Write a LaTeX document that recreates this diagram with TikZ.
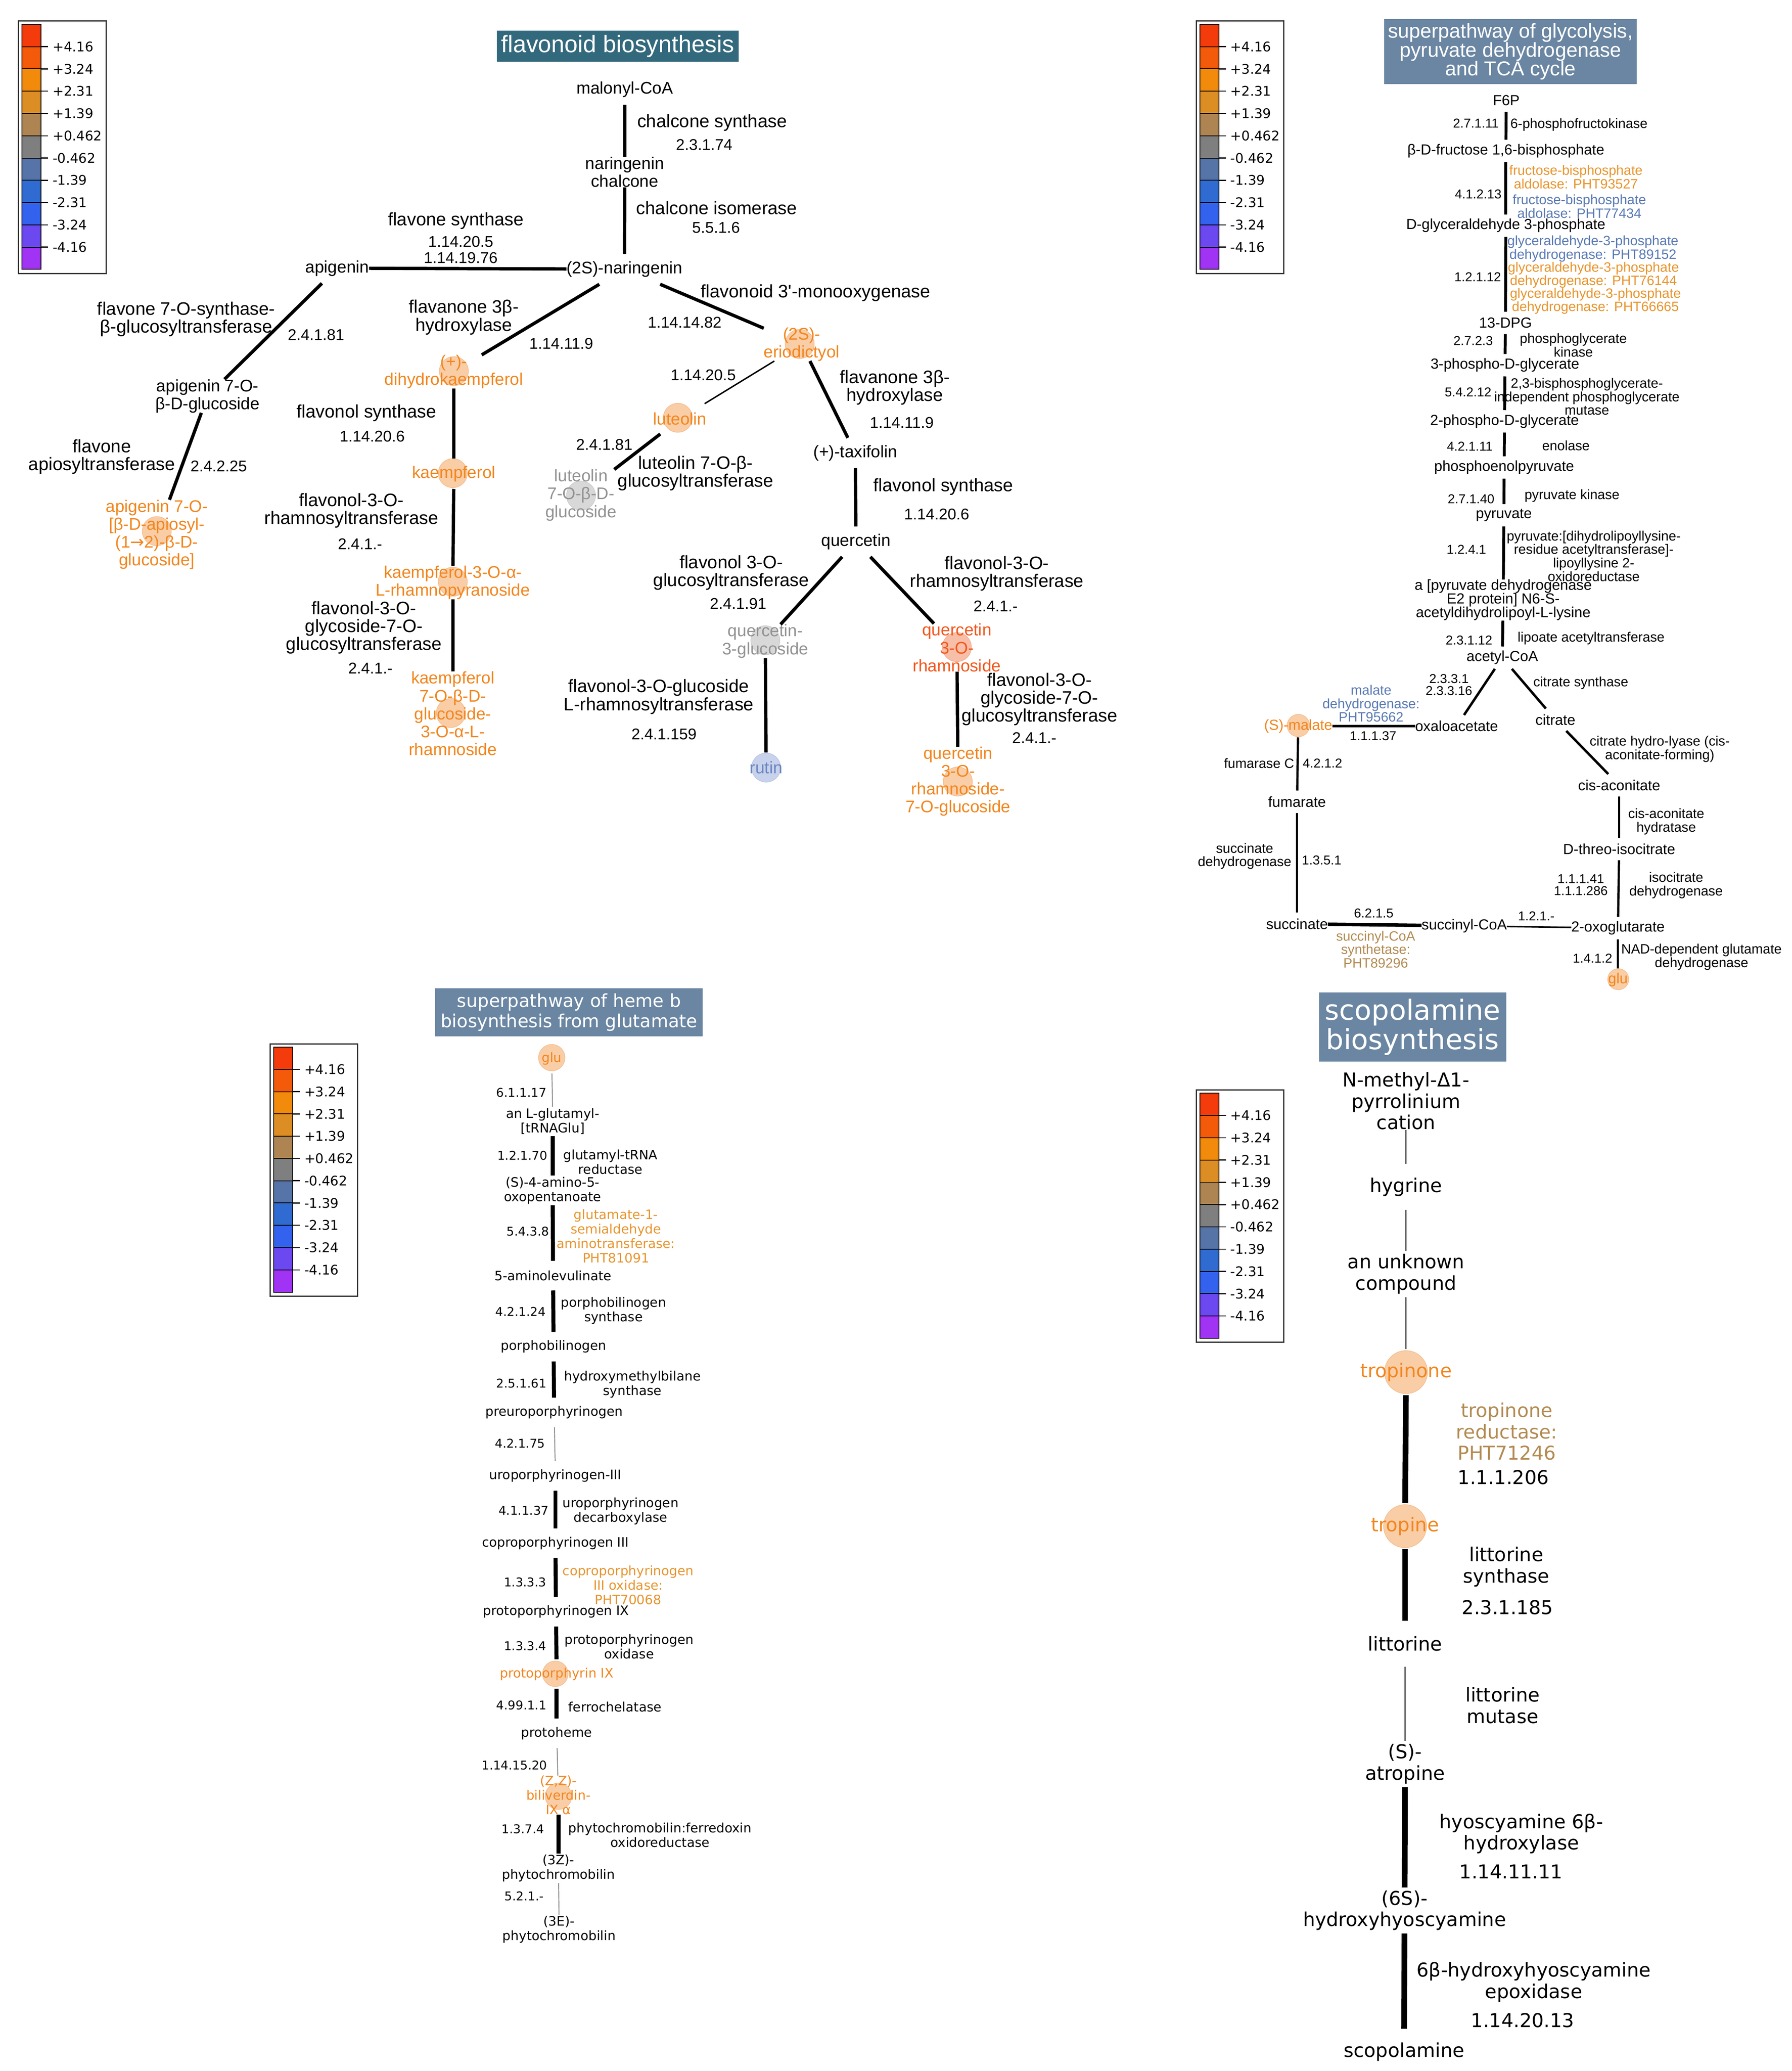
\documentclass[tikz,border=0pt]{standalone}
\usepackage{fontspec}
\setmainfont{Liberation Sans}
\newfontfamily\dvs{DejaVu Sans}
\definecolor{orT}{HTML}{F2861E}
\definecolor{orC}{HTML}{F9CDA6}
\definecolor{orCd}{HTML}{F6BE90}
\definecolor{grT}{HTML}{929292}
\definecolor{grC}{HTML}{D8D8D8}
\definecolor{grCd}{HTML}{CCCCCC}
\definecolor{ruT}{HTML}{6A86C0}
\definecolor{ruC}{HTML}{C8D2EC}
\definecolor{ruCd}{HTML}{B8C5E5}
\definecolor{rdT}{HTML}{F2561C}
\definecolor{rdC}{HTML}{F7BEA8}
\definecolor{rdCd}{HTML}{F4AC92}
\definecolor{enzO}{HTML}{E8952E}
\definecolor{enzB}{HTML}{5A7AB4}
\definecolor{enzT}{HTML}{B38B52}
\definecolor{titleA}{HTML}{33697D}
\definecolor{titleB}{HTML}{6A86A2}
\definecolor{lg1}{HTML}{F33B0B}
\definecolor{lg2}{HTML}{F35A0A}
\definecolor{lg3}{HTML}{F28A0C}
\definecolor{lg4}{HTML}{DC8E24}
\definecolor{lg5}{HTML}{AE8552}
\definecolor{lg6}{HTML}{7F7F7F}
\definecolor{lg7}{HTML}{5674A8}
\definecolor{lg8}{HTML}{2F6BD0}
\definecolor{lg9}{HTML}{3262EE}
\definecolor{lg10}{HTML}{6B48EF}
\definecolor{lg11}{HTML}{A033F4}
\newcommand\myarrow{{\dvs →}}
\tikzset{
  every node/.style={inner sep=0pt,outer sep=0pt},
  fc/.style={font=\fontsize{41}{43.5}\selectfont,align=center,minimum height=73.8pt},
  fe/.style={font=\fontsize{44}{43.5}\selectfont,align=center},
  fn/.style={font=\fontsize{38}{39.5}\selectfont,align=center},
  gc/.style={font=\fontsize{35.6}{33.4}\selectfont,align=center,minimum height=54.5pt},
  ge/.style={font=\fontsize{33}{33}\selectfont,align=center},
  gn/.style={font=\fontsize{31.4}{29.5}\selectfont,align=center},
  hc/.style={font=\dvs\fontsize{31.5}{35.3}\selectfont,align=center},
  hcomp/.style={hc,minimum height=72pt},
  hn/.style={font=\dvs\fontsize{29.5}{35}\selectfont,align=center},
  sc/.style={font=\dvs\fontsize{46.5}{52}\selectfont,align=center},
  scomp/.style={sc,minimum height=112.3pt},
  legtext/.style={font=\dvs\fontsize{32.4}{36}\selectfont},
  ttl/.style={text=white,align=center},
  ocirc/.style={circle,fill=orC,draw=orCd,line width=1.5pt,minimum size=#1},
  gcirc/.style={circle,fill=grC,draw=grCd,line width=1.5pt,minimum size=#1},
  bcirc/.style={circle,fill=ruC,draw=ruCd,line width=1.5pt,minimum size=#1},
  rcirc/.style={circle,fill=rdC,draw=rdCd,line width=1.5pt,minimum size=#1},
  fth/.style={line width=8pt},
  ftn/.style={line width=3.5pt},
  gth/.style={line width=7pt},
  hth/.style={line width=9.8pt},
  htn/.style={line width=2.2pt,draw=black!45},
  sth/.style={line width=14pt},
  stn/.style={line width=2.8pt,draw=black!70},
  legendpic/.pic={
    \foreach \col [count=\i from 0] in {lg1,lg2,lg3,lg4,lg5,lg6,lg7,lg8,lg9,lg10,lg11}
      \filldraw[fill=\col,draw=black,line width=2pt] (2.8,2.5+16.9*\i) rectangle (17.1,19.4+16.9*\i);
    \foreach \lab [count=\i] in {+4.16,+3.24,+2.31,+1.39,+0.462,-0.462,-1.39,-2.31,-3.24,-4.16} {
      \draw[line width=2.5pt] (17.1,2.5+16.9*\i) -- (22.6,2.5+16.9*\i);
      \node[legtext,anchor=west] (-l\i) at (26,2.5+16.9*\i) {\lab};
    }
    \draw[line width=3pt,draw=black!80] (0,0) rectangle (66.5,191.5);
  }
}
\begin{document}
\begin{tikzpicture}[x=3.208pt,y=-3.208pt]
\fill[white] (0,0) rectangle (1360,1571.4);
\useasboundingbox (0,0) rectangle (1360,1571.4);

% ---------- legends ----------
\pic (L1) at (14,16) {legendpic};
\pic (L2) at (908,16) {legendpic};
\pic (L3) at (205,792) {legendpic};
\pic (L4) at (908,827) {legendpic};

% ================= FLAVONOID =================
\node[ttl,fill=titleA,minimum width=588.7pt,minimum height=76pt,font=\fontsize{58}{60}\selectfont] (tflav) at (468.8,35) {flavonoid biosynthesis};

% circles
\node[ocirc=70.6pt] (c-apig7a) at (119,403) {};
\node[ocirc=70.6pt] (c-dhk) at (344.5,281.6) {};
\node[ocirc=70.6pt] (c-kaem) at (343.7,359) {};
\node[ocirc=70.6pt] (c-k3r) at (343.7,441.4) {};
\node[ocirc=70.6pt] (c-k7g) at (342.2,541) {};
\node[ocirc=70.6pt] (c-erio) at (607,261) {};
\node[ocirc=70.6pt] (c-lut) at (514.5,317) {};
\node[gcirc=70.6pt] (c-lut7g) at (441,376) {};
\node[gcirc=70.6pt] (c-q3g) at (580.9,485.8) {};
\node[bcirc=70.6pt] (c-rutin) at (581.5,582.4) {};
\node[rcirc=70.6pt] (c-q3r) at (726.3,491) {};
\node[ocirc=70.6pt] (c-q3r7g) at (727,593) {};

% compounds
\node[fc] (malonyl) at (474.2,67.9) {malonyl-CoA};
\node[fc] (nchal) at (474.2,130.7) {naringenin\\chalcone};
\node[fc] (narin) at (474,204.2) {(2S)-naringenin};
\node[fc] (apig) at (256,203.5) {apigenin};
\node[fc] (apig7g) at (157.5,300.5) {apigenin 7-O-\\β-D-glucoside};
\node[fc,text=orT] (apig7a) at (119,405.5) {apigenin 7-O-\\{}[β-D-apiosyl-\\(1\myarrow2)-β-D-\\glucoside]};
\node[fc,text=orT] (dhk) at (344.5,282) {(+)-\\dihydrokaempferol};
\node[fc,text=orT] (kaem) at (344.5,359.5) {kaempferol};
\node[fc,text=orT] (k3r) at (343.7,442.1) {kaempferol-3-O-α-\\L-rhamnopyranoside};
\node[fc,text=orT] (k7g) at (343.7,541.4) {kaempferol\\7-O-β-D-\\glucoside-\\3-O-α-L-\\rhamnoside};
\node[fc,text=orT] (erio) at (608.5,261.2) {(2S)-\\eriodictyol};
\node[fc,text=orT] (lut) at (516.1,317.8) {luteolin};
\node[fc,text=grT] (lut7g) at (441,375.7) {luteolin\\7-O-β-D-\\glucoside};
\node[fc] (taxi) at (649.2,343.7) {(+)-taxifolin};
\node[fc] (quer) at (649.7,411) {quercetin};
\node[fc,text=grT] (q3g) at (580.9,486.5) {quercetin-\\3-glucoside};
\node[fc,text=ruT] (rutin) at (581.5,582.4) {rutin};
\node[fc,text=rdT] (q3r) at (726.3,491.4) {quercetin\\3-O-\\rhamnoside};
\node[fc,text=orT] (q3r7g) at (727.2,592.9) {quercetin\\3-O-\\rhamnoside-\\7-O-glucoside};

% enzymes
\node[fe] (e-chs) at (540.5,93.1) {chalcone synthase};
\node[fn] (n-chs) at (534.5,109.8) {2.3.1.74};
\node[fe] (e-chi) at (544,157.8) {chalcone isomerase};
\node[fn] (n-chi) at (543.5,172.6) {5.5.1.6};
\node[fe] (e-fns) at (346,167.5) {flavone synthase};
\node[fn] (n-fns) at (349.7,189.5) {1.14.20.5\\1.14.19.76};
\node[fe] (e-f7g) at (141.3,242.3) {flavone 7-O-synthase-\\β-glucosyltransferase};
\node[fn] (n-f7g) at (239.9,254) {2.4.1.81};
\node[fe] (e-fap) at (77.3,346.5) {flavone\\apiosyltransferase};
\node[fn] (n-fap) at (166,353.7) {2.4.2.25};
\node[fe] (e-f3h1) at (352,240.8) {flavanone 3β-\\hydroxylase};
\node[fn] (n-f3h1) at (426,260.7) {1.14.11.9};
\node[fe] (e-fls1) at (278.2,313.4) {flavonol synthase};
\node[fn] (n-fls1) at (282.5,331.2) {1.14.20.6};
\node[fe] (e-f3rt1) at (266.7,387.5) {flavonol-3-O-\\rhamnosyltransferase};
\node[fn] (n-f3rt1) at (273.3,412.8) {2.4.1.-};
\node[fe] (e-f7gt1) at (276.2,476.2) {flavonol-3-O-\\glycoside-7-O-\\glucosyltransferase};
\node[fn] (n-f7gt1) at (281.1,507.1) {2.4.1.-};
\node[fe] (e-f3m) at (619.1,222.3) {flavonoid 3\textquotesingle-monooxygenase};
\node[fn] (n-f3m) at (519.7,244.6) {1.14.14.82};
\node[fn] (n-fns2) at (533.8,284.7) {1.14.20.5};
\node[fn] (n-l7g) at (458.7,337.5) {2.4.1.81};
\node[fe] (e-l7g) at (527.9,359.2) {luteolin 7-O-β-\\glucosyltransferase};
\node[fe] (e-f3h2) at (679.2,294.1) {flavanone 3β-\\hydroxylase};
\node[fn] (n-f3h2) at (684.5,320.6) {1.14.11.9};
\node[fe] (e-fls2) at (716,369.4) {flavonol synthase};
\node[fn] (n-fls2) at (711,390.3) {1.14.20.6};
\node[fe] (e-f3gt) at (555,434.5) {flavonol 3-O-\\glucosyltransferase};
\node[fn] (n-f3gt) at (560.3,458.1) {2.4.1.91};
\node[fe] (e-rut) at (500,528.7) {flavonol-3-O-glucoside\\L-rhamnosyltransferase};
\node[fn] (n-rut) at (504,557.2) {2.4.1.159};
\node[fe] (e-f3rt2) at (756.6,435.3) {flavonol-3-O-\\rhamnosyltransferase};
\node[fn] (n-f3rt2) at (755.7,459.8) {2.4.1.-};
\node[fe] (e-f7gt2) at (789,530.6) {flavonol-3-O-\\glycoside-7-O-\\glucosyltransferase};
\node[fn] (n-f7gt2) at (785.1,559.8) {2.4.1.-};

% edges
\draw[fth] (malonyl) -- (nchal);
\draw[fth] (nchal) -- (narin);
\draw[fth] (narin) -- (apig);
\draw[fth] (apig) -- (apig7g);
\draw[fth] (apig7g) -- (apig7a);
\draw[fth] (narin) -- (dhk);
\draw[fth] (dhk) -- (kaem);
\draw[fth] (kaem) -- (k3r);
\draw[fth] (k3r) -- (k7g);
\draw[fth] (narin) -- (erio);
\draw[ftn] (erio) -- (lut);
\draw[fth] (lut) -- (lut7g);
\draw[fth] (erio) -- (taxi);
\draw[fth] (taxi) -- (quer);
\draw[fth] (quer) -- (q3g);
\draw[fth] (q3g) -- (rutin);
\draw[fth] (quer) -- (q3r);
\draw[fth] (q3r) -- (q3r7g);

% ================= GLYCOLYSIS / TCA =================
\node[ttl,fill=titleB,minimum width=615pt,minimum height=158pt,font=\fontsize{49}{46}\selectfont] (tgly) at (1146.5,39.2) {superpathway of glycolysis,\\pyruvate dehydrogenase\\and TCA cycle};

\node[ocirc=54.5pt] (c-mal) at (985.5,550.5) {};
\node[ocirc=51.3pt] (c-gluG) at (1228.3,743) {};

\node[gc] (f6p) at (1143.3,76.3) {F6P};
\node[gc] (fbp) at (1143,114.5) {β-D-fructose 1,6-bisphosphate};
\node[gc] (g3p) at (1143,171.2) {D-glyceraldehyde 3-phosphate};
\node[gc] (dpg) at (1142.7,245) {13-DPG};
\node[gc] (pg3) at (1142.3,277.1) {3-phospho-D-glycerate};
\node[gc] (pg2) at (1142,319.7) {2-phospho-D-glycerate};
\node[gc] (pep) at (1141.7,354.7) {phosphoenolpyruvate};
\node[gc] (pyr) at (1141.5,391) {pyruvate};
\node[gc] (e2p) at (1141,455.3) {a [pyruvate dehydrogenase\\E2 protein] N6-S-\\acetyldihydrolipoyl-L-lysine};
\node[gc] (acoa) at (1140.3,499) {acetyl-CoA};
\node[gc] (oaa) at (1105.6,551) {oxaloacetate};
\node[gc] (cit) at (1180.6,546.1) {citrate};
\node[gc,text=orT] (mal) at (985.4,551) {(S)-malate};
\node[gc] (fum) at (984.5,608.3) {fumarate};
\node[gc] (suc) at (984.5,701) {succinate};
\node[gc] (scoa) at (1111.4,702.5) {succinyl-CoA};
\node[gc] (oxg) at (1228.1,704.2) {2-oxoglutarate};
\node[gc,text=orT] (gluG) at (1228.1,743.3) {glu};
\node[gc] (cisa) at (1229,595.8) {cis-aconitate};
\node[gc] (icit) at (1229,644.2) {D-threo-isocitrate};

\node[gn] (n-pfk) at (1120.2,93.5) {2.7.1.11};
\node[ge] (e-pfk) at (1198.5,94.7) {6-phosphofructokinase};
\node[gn] (n-ald) at (1122,147.3) {4.1.2.13};
\node[ge,text=enzO] (e-ald1) at (1196.2,134.4) {fructose-bisphosphate\\aldolase: PHT93527};
\node[ge,text=enzB] (e-ald2) at (1198.8,156.7) {fructose-bisphosphate\\aldolase: PHT77434};
\node[gn] (n-gap) at (1121.6,210.1) {1.2.1.12};
\node[ge,text=enzB] (e-gap1) at (1209.1,188.8) {glyceraldehyde-3-phosphate\\dehydrogenase: PHT89152};
\node[ge,text=enzO] (e-gap2) at (1209.5,208.7) {glyceraldehyde-3-phosphate\\dehydrogenase: PHT76144};
\node[ge,text=enzO] (e-gap3) at (1211,228.5) {glyceraldehyde-3-phosphate\\dehydrogenase: PHT66665};
\node[gn] (n-pgk) at (1118.2,258.5) {2.7.2.3};
\node[ge] (e-pgk) at (1194.2,261.9) {phosphoglycerate\\kinase};
\node[gn] (n-pgm) at (1114.3,297.4) {5.4.2.12};
\node[ge] (e-pgm) at (1204.5,300.9) {2,3-bisphosphoglycerate-\\independent phosphoglycerate\\mutase};
\node[gn] (n-eno) at (1115.6,338.7) {4.2.1.11};
\node[ge] (e-eno) at (1188.6,338.2) {enolase};
\node[gn] (n-pk) at (1116.6,378.6) {2.7.1.40};
\node[ge] (e-pk) at (1193.2,376.1) {pyruvate kinase};
\node[gn] (n-pdh) at (1113,416.9) {1.2.4.1};
\node[ge] (e-pdh) at (1209.7,421.9) {pyruvate:[dihydrolipoyllysine-\\residue acetyltransferase]-\\lipoyllysine 2-\\oxidoreductase};
\node[gn] (n-lat) at (1115,485.9) {2.3.1.12};
\node[ge] (e-lat) at (1207.7,484.2) {lipoate acetyltransferase};
\node[gn] (n-cs) at (1099.8,519.6) {2.3.3.1\\2.3.3.16};
\node[ge] (e-cs) at (1199.9,518.4) {citrate synthase};
\node[ge,text=enzB] (e-mdh) at (1040.7,533.8) {malate\\dehydrogenase:\\PHT95662};
\node[gn] (n-mdh) at (1042.2,558.3) {1.1.1.37};
\node[ge] (e-fumC) at (955.7,579) {fumarase C};
\node[gn] (n-fumC) at (1003.8,579) {4.2.1.2};
\node[ge] (e-sdh) at (944.7,649.6) {succinate\\dehydrogenase};
\node[gn] (n-sdh) at (1003.2,652.8) {1.3.5.1};
\node[gn] (n-scs) at (1042.7,692.8) {6.2.1.5};
\node[ge,text=enzT] (e-scs) at (1044.2,720.4) {succinyl-CoA\\synthetase:\\PHT89296};
\node[gn] (n-ogdh) at (1166.1,695.2) {1.2.1.-};
\node[gn] (n-gdh) at (1208.8,727) {1.4.1.2};
\node[ge] (e-gdh) at (1291.5,726.2) {NAD-dependent glutamate\\dehydrogenase};
\node[ge] (e-aco1) at (1259.8,568.3) {citrate hydro-lyase (cis-\\aconitate-forming)};
\node[ge] (e-aco2) at (1264.7,623.3) {cis-aconitate\\hydratase};
\node[gn] (n-idh) at (1199.9,671.4) {1.1.1.41\\1.1.1.286};
\node[ge] (e-idh) at (1272.2,671.7) {isocitrate\\dehydrogenase};

\draw[gth] (f6p) -- (fbp);
\draw[gth] (fbp) -- (g3p);
\draw[gth] (g3p) -- (dpg);
\draw[gth] (dpg) -- (pg3);
\draw[gth] (pg3) -- (pg2);
\draw[gth] (pg2) -- (pep);
\draw[gth] (pep) -- (pyr);
\draw[gth] (pyr) -- (e2p);
\draw[gth] (e2p) -- (acoa);
\draw[line width=6pt] (acoa) -- (oaa);
\draw[line width=6pt] (acoa) -- (cit);
\draw[line width=6pt] (cit) -- (cisa);
\draw[line width=5.5pt] (cisa) -- (icit);
\draw[line width=5.5pt] (icit) -- (oxg);
\draw[line width=3.7pt] (oxg) -- (scoa);
\draw[line width=8.4pt] (scoa) -- (suc);
\draw[line width=4.6pt] (suc) -- (fum);
\draw[line width=5.5pt] (fum) -- (mal);
\draw[line width=6.3pt] (mal) -- (oaa);
\draw[line width=5.5pt] (oxg) -- (gluG);

% ================= HEME =================
\node[ttl,fill=titleB,minimum width=651pt,minimum height=116.8pt,font=\dvs\fontsize{43.6}{50}\selectfont] (theme) at (431.9,768.1) {superpathway of heme b\\biosynthesis from glutamate};

\node[ocirc=64.2pt] (c-gluH) at (418.8,802.5) {};
\node[ocirc=62pt] (c-proto) at (421.5,1270) {};
\node[ocirc=64.2pt] (c-bili) at (423.9,1362.9) {};

\node[hcomp,text=orT] (gluH) at (418.8,803.2) {glu};
\node[hcomp] (tglu) at (419.5,850.9) {an L-glutamyl-\\{}[tRNAGlu]};
\node[hcomp] (ala4) at (419.5,903.2) {(S)-4-amino-5-\\oxopentanoate};
\node[hcomp] (ala) at (419.8,967.9) {5-aminolevulinate};
\node[hcomp] (pbg) at (420.2,1021.8) {porphobilinogen};
\node[hcomp] (prep) at (420.6,1071.7) {preuroporphyrinogen};
\node[hcomp] (uro) at (421.6,1119.8) {uroporphyrinogen-III};
\node[hcomp] (copro) at (421.6,1170.8) {coproporphyrinogen III};
\node[hcomp] (protog) at (422,1222.9) {protoporphyrinogen IX};
\node[hcomp,text=orT] (proto) at (422.5,1270.2) {protoporphyrin IX};
\node[hcomp] (hemeN) at (422.5,1315.1) {protoheme};
\node[hcomp,text=orT] (bili) at (423.9,1362.1) {(Z,Z)-\\biliverdin-\\IX α};
\node[hcomp] (p3z) at (423.9,1417.6) {(3Z)-\\phytochromobilin};
\node[hcomp] (p3e) at (424.4,1464.1) {(3E)-\\phytochromobilin};

\node[hn] (h-n1) at (395.8,829) {6.1.1.17};
\node[hn] (h-n2) at (396.5,876.9) {1.2.1.70};
\node[hc] (h-e2) at (463.3,881.8) {glutamyl-tRNA\\reductase};
\node[hn] (h-n3) at (400.7,934.2) {5.4.3.8};
\node[hc,text=enzO] (h-e3) at (467.5,937.9) {glutamate-1-\\semialdehyde\\aminotransferase:\\PHT81091};
\node[hn] (h-n4) at (395.1,995.3) {4.2.1.24};
\node[hc] (h-e4) at (465.7,994.6) {porphobilinogen\\synthase};
\node[hn] (h-n5) at (395.8,1049.6) {2.5.1.61};
\node[hc] (h-e5) at (480,1050.5) {hydroxymethylbilane\\synthase};
\node[hn] (h-n6) at (394.7,1095.3) {4.2.1.75};
\node[hn] (h-n7) at (397.5,1146) {4.1.1.37};
\node[hc] (h-e7) at (471,1146.5) {uroporphyrinogen\\decarboxylase};
\node[hn] (h-n8) at (398.6,1200.4) {1.3.3.3};
\node[hc,text=enzO] (h-e8) at (476.8,1202.6) {coproporphyrinogen\\III oxidase:\\PHT70068};
\node[hn] (h-n9) at (398.6,1248.9) {1.3.3.4};
\node[hc] (h-e9) at (477.5,1249.5) {protoporphyrinogen\\oxidase};
\node[hn] (h-n10) at (395.8,1293.8) {4.99.1.1};
\node[hc] (h-e10) at (466.8,1295) {ferrochelatase};
\node[hn] (h-n11) at (390.5,1339.4) {1.14.15.20};
\node[hn] (h-n12) at (396.9,1387.9) {1.3.7.4};
\node[hc] (h-e12) at (501,1392.2) {phytochromobilin:ferredoxin\\oxidoreductase};
\node[hn] (h-n13) at (397.9,1438.8) {5.2.1.-};

\draw[htn] (gluH) -- (tglu);
\draw[hth] (tglu) -- (ala4);
\draw[hth] (ala4) -- (ala);
\draw[hth] (ala) -- (pbg);
\draw[hth] (pbg) -- (prep);
\draw[htn] (prep) -- (uro);
\draw[hth] (uro) -- (copro);
\draw[hth] (copro) -- (protog);
\draw[hth] (protog) -- (proto);
\draw[hth] (proto) -- (hemeN);
\draw[htn] (hemeN) -- (bili);
\draw[hth] (bili) -- (p3z);
\draw[htn] (p3z) -- (p3e);

% ================= SCOPOLAMINE =================
\node[ttl,fill=titleB,minimum width=456pt,minimum height=168pt,font=\dvs\fontsize{67.7}{71}\selectfont] (tscop) at (1072.2,779.2) {scopolamine\\biosynthesis};

\node[ocirc=104.6pt] (c-tpn) at (1067.2,1041.1) {};
\node[ocirc=104.6pt] (c-tpe) at (1066.5,1158) {};

\node[scomp] (nmp) at (1067.2,835.4) {N-methyl-Δ1-\\pyrrolinium\\cation};
\node[scomp] (hyg) at (1067.2,900.5) {hygrine};
\node[scomp] (unk) at (1067.2,966.7) {an unknown\\compound};
\node[scomp,text=orT] (tpn) at (1067.2,1041.1) {tropinone};
\node[scomp,text=orT] (tpe) at (1066.5,1158) {tropine};
\node[scomp] (lit) at (1066.5,1247.2) {littorine};
\node[scomp] (atr) at (1066.5,1338.4) {(S)-\\atropine};
\node[scomp] (hhy) at (1066.1,1449.6) {(6S)-\\hydroxyhyoscyamine};
\node[scomp] (scop) at (1065.7,1556.9) {scopolamine};

\node[sc,text=enzT] (s-e1) at (1143.7,1086.1) {tropinone\\reductase:\\PHT71246};
\node[sc] (s-n1) at (1141.1,1120.9) {1.1.1.206};
\node[sc] (s-e2) at (1143.3,1188.9) {littorine\\synthase};
\node[sc] (s-n2) at (1144.2,1219.7) {2.3.1.185};
\node[sc] (s-e3) at (1140.5,1293.9) {littorine\\mutase};
\node[sc] (s-e4) at (1154.7,1391.4) {hyoscyamine 6β-\\hydroxylase};
\node[sc] (s-n4) at (1147,1420.2) {1.14.11.11};
\node[sc] (s-e5) at (1164.1,1504) {6β-hydroxyhyoscyamine\\epoxidase};
\node[sc] (s-n5) at (1155.8,1533) {1.14.20.13};

\draw[stn] (nmp) -- (hyg);
\draw[stn] (hyg) -- (unk);
\draw[stn] (unk) -- (tpn);
\draw[sth] (tpn) -- (tpe);
\draw[sth] (tpe) -- (lit);
\draw[stn] (lit) -- (atr);
\draw[sth] (atr) -- (hhy);
\draw[sth] (hhy) -- (scop);
\end{tikzpicture}
\end{document}
